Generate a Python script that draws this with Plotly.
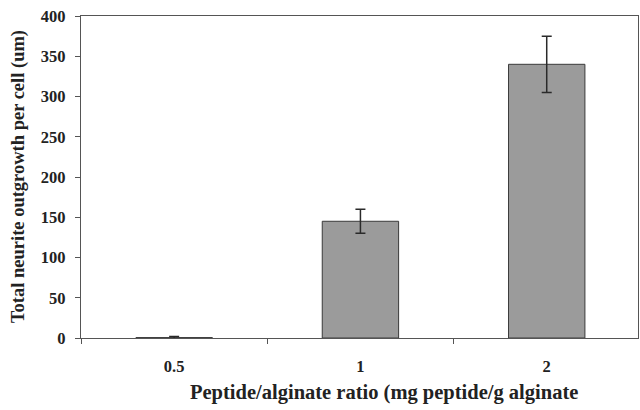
import plotly.graph_objects as go

categories = ["0.5", "1", "2"]
outgrowth = [0.5, 145, 340]
errors = [1.5, 15, 35]
y_ticks = [0, 50, 100, 150, 200, 250, 300, 350, 400]
x_title = "Peptide/alginate ratio (mg peptide/g alginate"
y_title = "Total neurite outgrowth per cell (um)"

FONT = "Liberation Serif"

fig = go.Figure()
fig.add_trace(go.Bar(
    x=categories, y=outgrowth, width=0.41,
    marker=dict(color="#9b9b9b", line=dict(color="#3a3a3a", width=1)),
    error_y=dict(type="data", array=errors, visible=True,
                 color="#2a2a2a", thickness=1.5, width=5),
))

fig.update_layout(
    width=640, height=410,
    margin=dict(l=81, r=2, t=16, b=72),
    paper_bgcolor="white", plot_bgcolor="white",
    showlegend=False,
    font=dict(family=FONT, color="#222"),
    xaxis=dict(type="category", range=[-0.5, 2.49],
               showline=True, linecolor="#555", linewidth=1.3, mirror=True,
               ticks="outside", tickson="boundaries", ticklen=5, tickcolor="#555",
               tickfont=dict(family=FONT, size=16.5, color="#222", weight="bold"),
               ticklabelstandoff=13, showgrid=False, zeroline=False),
    yaxis=dict(range=[0, 400], tickvals=y_ticks,
               showline=True, linecolor="#555", linewidth=1.3, mirror=True,
               ticks="outside", ticklen=5, tickcolor="#555",
               tickfont=dict(family=FONT, size=16.5, color="#222", weight="bold"),
               ticklabelstandoff=6, showgrid=False, zeroline=False),
    annotations=[
        dict(text=x_title, xref="paper", yref="paper", x=0.192, y=-0.168,
             xanchor="left", yanchor="middle", showarrow=False,
             font=dict(family=FONT, size=20.5, color="#222", weight="bold")),
        dict(text=y_title, xref="paper", yref="paper", x=-0.113, y=0.5,
             xanchor="center", yanchor="middle", textangle=-90, showarrow=False,
             font=dict(family=FONT, size=18.5, color="#222", weight="bold")),
    ],
)

fig.write_html("out.html")
